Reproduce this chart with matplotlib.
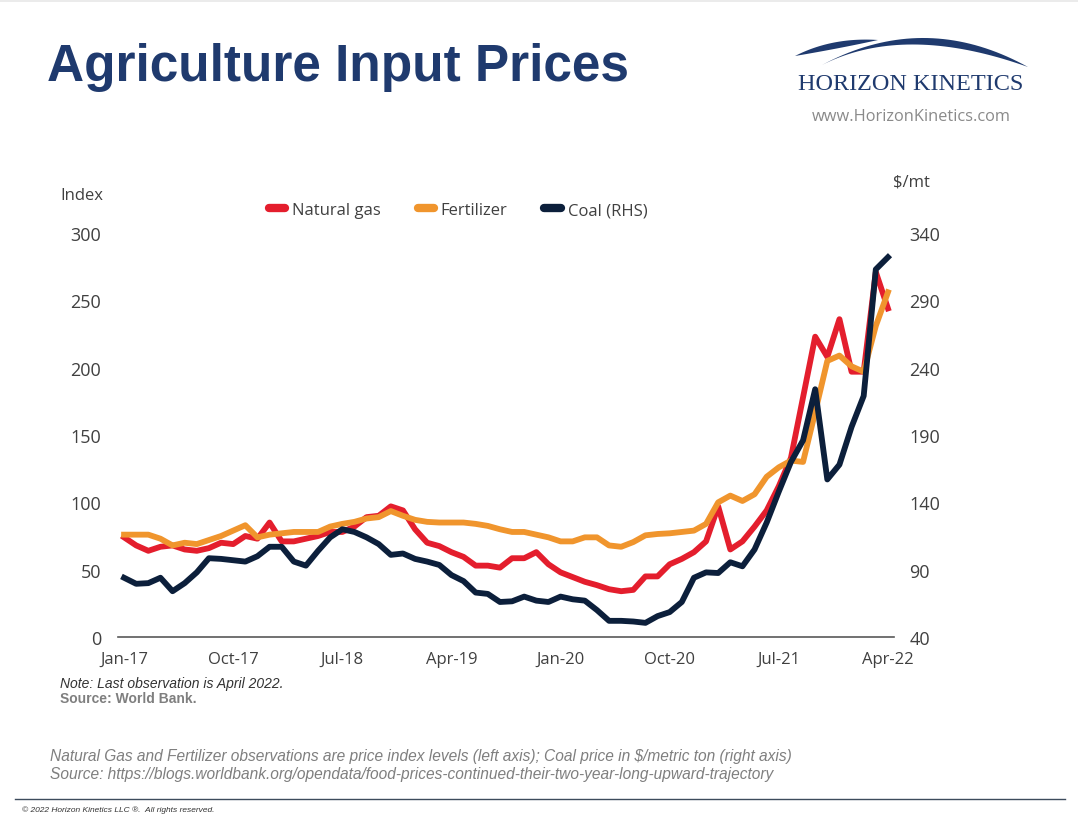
import numpy as np
import matplotlib
matplotlib.use("Agg")
import matplotlib.pyplot as plt
from matplotlib.patches import Polygon
from matplotlib.lines import Line2D

# monthly observations Jan-17 .. Apr-22
natural_gas = [74, 68, 64, 67, 68, 65, 64, 66, 70, 69,
               75, 73, 85, 71, 71, 73, 75, 78, 78, 82,
               89, 90, 97, 94, 80, 70, 67.5, 63, 59.5, 53,
               53, 51.5, 58.5, 58.5, 63, 54, 48, 44.5, 41, 38.5,
               35.5, 34, 35, 45, 45, 54, 58, 63, 71, 97,
               65, 71, 82, 94, 112, 133, 178, 223, 208, 236,
               197, 197, 271, 244]
fertilizer = [76, 76, 76, 73, 68, 70, 69, 72, 75, 79,
              83, 74, 76, 77, 78, 78, 78, 82, 84, 85.5,
              88, 89, 93.5, 90, 87, 85.5, 85, 85, 85, 84,
              82.5, 80, 78, 78, 76, 74, 71, 71, 74, 74,
              68, 67, 70.5, 75.5, 76.5, 77, 78, 79, 84, 100,
              105, 101, 106, 119, 126, 131, 130, 167, 205, 209,
              201, 197, 231, 256]
coal = [84, 79.5, 80, 84, 74, 80, 88, 98.5, 98, 97,
        96, 100, 107, 107, 96, 93, 104, 114, 120, 118,
        114, 109, 101, 102, 98, 96, 93.5, 86, 81.5, 73,
        72, 66, 66.5, 70, 67, 66, 70, 68, 67, 60,
        52, 52, 51.5, 50.5, 55.5, 58.5, 66, 84, 88, 87.5,
        95.5, 92.5, 105, 125, 148, 170, 186, 224, 157, 168,
        196, 219, 313, 322]
tick_labels = ["Jan-17", "Oct-17", "Jul-18", "Apr-19",
               "Jan-20", "Oct-20", "Jul-21", "Apr-22"]
left_ticks = [0, 50, 100, 150, 200, 250, 300]
right_ticks = [40, 90, 140, 190, 240, 290, 340]

RED = "#E41E2D"
ORANGE = "#F0952D"
NAVY = "#0C1F3B"
TITLE = "#1F3A6E"
TXT = "#404040"

W, H = 1078, 820
fig = plt.figure(figsize=(W / 100, H / 100), dpi=100)
fig.patch.set_facecolor("white")

# full-figure axes in pixel coords for the slide decoration
deco = fig.add_axes([0, 0, 1, 1])
deco.set_xlim(0, W)
deco.set_ylim(H, 0)
deco.axis("off")

deco.add_patch(plt.Rectangle((0, 0), W, 3, color="#ebebeb", lw=0))
deco.text(47, 81, "Agriculture Input Prices", fontsize=37, fontweight="bold",
          color=TITLE, family="Liberation Sans", va="baseline", ha="left")


def bez(p0, c, p1, n=40):
    t = np.linspace(0, 1, n)[:, None]
    return (1 - t) ** 2 * np.array(p0) + 2 * (1 - t) * t * np.array(c) + t ** 2 * np.array(p1)


# logo swooshes
top = bez((822, 66), (925, 11), (1028, 68))
bot = bez((1028, 68), (905, 24), (822, 66))
deco.add_patch(Polygon(np.vstack([top, bot]), closed=True, color=TITLE, lw=0))
top = bez((795, 57), (832, 38), (878, 41))
bot = bez((878, 41), (842, 49), (795, 57))
deco.add_patch(Polygon(np.vstack([top, bot]), closed=True, color=TITLE, lw=0))
deco.text(911, 84, "HORIZON KINETICS", fontsize=17.5, color=TITLE,
          family="Liberation Serif", ha="center", va="center")
deco.text(911, 117, "www.HorizonKinetics.com", fontsize=11.8, color="#8a8a8a",
          family="Open Sans", ha="center", va="center")

deco.text(60, 196, "Index", fontsize=12, color=TXT, family="Open Sans", va="center")
deco.text(893, 183, "$/mt", fontsize=12, color=TXT, family="Open Sans", va="center")

deco.text(60, 684, "Note: Last observation is April 2022.", fontsize=10,
          style="italic", color="#333333", family="Liberation Sans", va="center")
deco.text(60, 699, "Source: World Bank.", fontsize=10, fontweight="bold",
          color="#7f7f7f", family="Liberation Sans", va="center")

deco.text(50, 757, "Natural Gas and Fertilizer observations are price index levels "
          "(left axis); Coal price in $/metric ton (right axis)",
          fontsize=11.2, style="italic", color="#7f7f7f", family="Liberation Sans",
          va="center")
deco.text(50, 775, "Source: https://blogs.worldbank.org/opendata/"
          "food-prices-continued-their-two-year-long-upward-trajectory",
          fontsize=11.2, style="italic", color="#7f7f7f", family="Liberation Sans",
          va="center")
deco.plot([15, 1065], [800, 800], color="#3d4b5c", lw=1)
deco.text(22, 810, "\u00a9 2022 Horizon Kinetics LLC \u00ae.  All rights reserved.",
          fontsize=6, style="italic", color="#333333", family="Liberation Sans",
          va="center")

# chart
ax = fig.add_axes([118 / W, (H - 638) / H, (894 - 118) / W, (638 - 234) / H])
ax.set_facecolor("none")
ax2 = ax.twinx()

x = np.arange(len(natural_gas))
ax.plot(x, natural_gas, color=RED, lw=4.2, clip_on=False)
ax.plot(x, fertilizer, color=ORANGE, lw=4.2, clip_on=False)
ax2.plot(x, coal, color=NAVY, lw=4.2, clip_on=False)

ax.set_xlim(-0.5, len(x) - 0.5)
ax.set_ylim(0, 300)
ax2.set_ylim(40, 340)
ax.set_xticks(np.arange(0, len(x), 9))
ax.set_xticklabels(tick_labels)
ax.set_yticks(left_ticks)
ax2.set_yticks(right_ticks)

for a in (ax, ax2):
    for s in a.spines.values():
        s.set_visible(False)
    a.tick_params(length=0, labelsize=12, labelcolor=TXT)
    for lab in a.get_xticklabels() + a.get_yticklabels():
        lab.set_family("Open Sans")
ax.tick_params(axis="y", labelsize=13, pad=12)
ax2.tick_params(axis="y", labelsize=13, pad=11)
ax.tick_params(axis="x", pad=10)
ax.spines["bottom"].set_visible(True)
ax.spines["bottom"].set_color("#595959")
ax.spines["bottom"].set_linewidth(1.2)

handles = [Line2D([], [], color=c, lw=6, solid_capstyle="round")
           for c in (RED, ORANGE, NAVY)]
leg = fig.legend(handles, ["Natural gas", "Fertilizer", "Coal (RHS)"],
                 loc="center", bbox_to_anchor=(458 / W, 1 - 211 / H),
                 ncol=3, frameon=False, handlelength=1.0,
                 handletextpad=0.4, columnspacing=2.2,
                 prop={"family": "Open Sans", "size": 12})
for t in leg.get_texts():
    t.set_color(TXT)

fig.savefig("out.png", dpi=100, facecolor="white")
